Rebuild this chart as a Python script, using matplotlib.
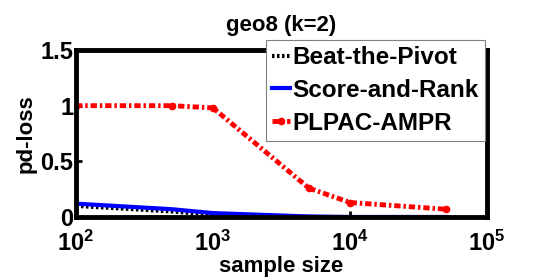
import matplotlib
matplotlib.use("Agg")
import matplotlib.pyplot as plt

plt.rcParams['font.family'] = ['Liberation Sans', 'DejaVu Sans']
plt.rcParams['font.weight'] = 'bold'
plt.rcParams['mathtext.fontset'] = 'custom'
plt.rcParams['mathtext.rm'] = 'Liberation Sans:bold'
plt.rcParams['mathtext.default'] = 'rm'

sizes = [100, 500, 1000, 5000, 10000, 50000]
beat_the_pivot = [0.10, 0.05, 0.02, 0.0, 0.0, 0.0]
score_and_rank = [0.12, 0.07, 0.035, 0.005, 0.0, 0.0]
plpac_ampr = [1.0, 1.0, 0.98, 0.26, 0.13, 0.07]

fig = plt.figure(figsize=(5.38, 2.79), dpi=100)
ax = fig.add_axes([76/538, 1 - 217/279, 411/538, 167/279])

ax.plot(sizes, beat_the_pivot, color='black', linestyle=(0, (0.6, 0.6)), linewidth=3,
        label='Beat-the-Pivot')
ax.plot(sizes, score_and_rank, color='blue', linestyle='-', linewidth=3, label='Score-and-Rank')
ax.plot(sizes, plpac_ampr, color='red', linestyle=(0, (1.3, 0.6, 0.5, 0.6)), linewidth=3.5,
        marker='.', markersize=9, label='PLPAC-AMPR')

ax.set_xscale('log')
ax.set_xlim(100, 100000)
ax.set_ylim(0, 1.5)
ax.set_xticks([100, 1000, 10000, 100000])
ax.set_xticks([], minor=True)
ax.set_yticks([0, 0.5, 1, 1.5])
ax.set_yticklabels(['0', '0.5', '1', '1.5'])
ax.tick_params(direction='in', length=4, width=2, labelsize=17, pad=2)
ax.tick_params(axis='x', pad=10)
for s in ax.spines.values():
    s.set_linewidth(3.5)

ax.set_title('geo8 (k=2)', fontsize=16, fontweight='bold', pad=14)
ax.set_xlabel('sample size', fontsize=16, fontweight='bold', labelpad=0)
ax.set_ylabel('pd-loss', fontsize=16, fontweight='bold', labelpad=3)

leg = ax.legend(loc='upper right', bbox_to_anchor=(0.995, 1.06), fontsize=17.5,
                frameon=True, fancybox=False, framealpha=1, edgecolor='gray',
                handlelength=0.75, handletextpad=0.1, borderpad=0.25, labelspacing=0.4,
                borderaxespad=0)
leg.get_frame().set_linewidth(0.8)
leg.set_zorder(5)

fig.savefig('out.png', dpi=100)
